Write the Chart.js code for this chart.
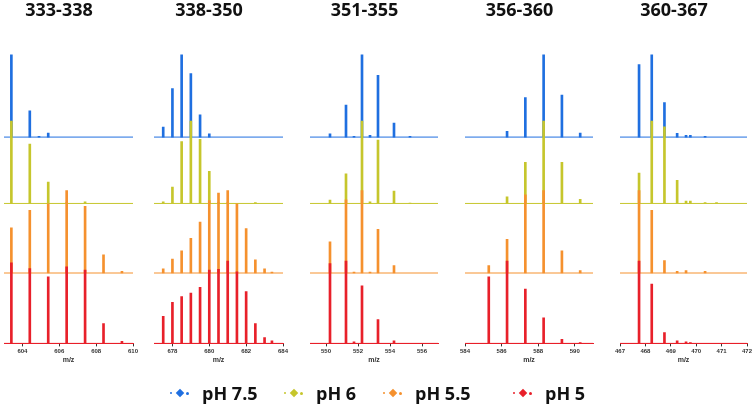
<!DOCTYPE html>
<html>
<head>
<meta charset="utf-8">
<script src="https://cdn.jsdelivr.net/npm/chart.js@4/dist/chart.umd.min.js"></script>
<style>
  html, body { margin: 0; padding: 0; background: #fff; }
  body { width: 754px; height: 410px; position: relative; overflow: hidden; font-family: 'Open Sans', Lato, sans-serif; }
  canvas.panel { position: absolute; top: 0; }
  .lg-item { position: absolute; top: 381px; height: 24px; }
  .lg-dot { position: absolute; border-radius: 50%; }
  .lg-diamond { position: absolute; top: 9px; left: 7px; width: 6px; height: 6px; transform: rotate(45deg); }
  .lg-text { position: absolute; left: 32px; top: 0; line-height: 24px; font-weight: bold; font-size: 18px; color: #111; white-space: nowrap; }
</style>
</head>
<body>
<canvas class="panel" id="p0" width="158" height="364" style="left:-15px"></canvas>
<canvas class="panel" id="p1" width="158" height="364" style="left:135px"></canvas>
<canvas class="panel" id="p2" width="157" height="364" style="left:291px"></canvas>
<canvas class="panel" id="p3" width="157" height="364" style="left:446px"></canvas>
<canvas class="panel" id="p4" width="156" height="364" style="left:601px"></canvas>
<div id="legend"></div>
<script>
// titles and series
const panelTitles = ['333-338', '338-350', '351-355', '356-360', '360-367'];
const seriesNames = ['pH 7.5', 'pH 6', 'pH 5.5', 'pH 5'];
const seriesColors = ['#1f6fe0', '#c6c62c', '#f5912e', '#e8202a'];

// panel 1 (333-338)
const mz1 = [603.4, 604.4, 604.9, 605.4, 606.4, 607.4, 608.4, 609.4];
const ph75_1 = [100, 32, 1, 5, 0, 0, 0, 0];
const ph6_1 = [100, 72, 0, 26, 1, 2, 0, 0];
const ph55_1 = [55, 76, 0, 84, 100, 81, 22, 2];
const ph5_1 = [98, 91, 0, 81, 93, 89, 24, 2.5];
const range1 = [603, 610];
const ticks1 = [604, 606, 608, 610];

// panel 2 (338-350)
const mz2 = [677.5, 678.0, 678.5, 679.0, 679.5, 680.0, 680.5, 681.0, 681.5, 682.0, 682.5, 683.0, 683.4];
const ph75_2 = [12, 59, 100, 77, 27, 4, 0, 0, 0, 0, 0, 0, 0];
const ph6_2 = [2, 20, 75, 100, 78, 39, 1, 1, 0, 0, 1, 0, 0];
const ph55_2 = [5, 17, 27, 42, 62, 88, 97, 100, 84, 54, 16, 5, 1];
const ph5_2 = [33, 50, 57, 61, 68, 89, 90, 100, 87, 63, 24, 7, 3];
const range2 = [677, 684];
const ticks2 = [678, 680, 682, 684];

// panel 3 (351-355)
const mz3 = [550.25, 551.25, 551.75, 552.25, 552.75, 553.25, 554.25, 555.25];
const ph75_3 = [4, 39, 1, 100, 2, 75, 17, 1];
const ph6_3 = [4, 36, 0, 100, 2, 77, 15, 0.5];
const ph55_3 = [38, 89, 1, 100, 1, 53, 9, 0];
const ph5_3 = [97, 100, 2, 70, 0, 29, 3, 0];
const range3 = [549, 557];
const ticks3 = [550, 552, 554, 556];

// panel 4 (356-360)
const mz4 = [585.3, 586.3, 587.3, 588.3, 589.3, 590.3];
const ph75_4 = [0, 7, 48, 100, 51, 5];
const ph6_4 = [0, 8, 50, 100, 50, 5];
const ph55_4 = [9, 41, 95, 100, 27, 3];
const ph5_4 = [81, 100, 66, 31, 5, 1];
const range4 = [584, 591];
const ticks4 = [584, 586, 588, 590];

// panel 5 (360-367)
const mz5 = [467.75, 468.25, 468.75, 469.25, 469.6, 469.77, 470.35, 470.8];
const ph75_5 = [88, 100, 42, 4.5, 2, 2, 1, 0];
const ph6_5 = [37, 100, 93, 28, 3, 3, 1, 1];
const ph55_5 = [100, 76, 15, 2, 3, 0, 2, 0];
const ph5_5 = [100, 72, 13, 3, 2, 1, 0, 0];
const range5 = [467, 472];
const ticks5 = [467, 468, 469, 470, 471, 472];

const panels = [
    { mz: mz1, series: [ph75_1, ph6_1, ph55_1, ph5_1], range: range1, ticks: ticks1 },
    { mz: mz2, series: [ph75_2, ph6_2, ph55_2, ph5_2], range: range2, ticks: ticks2 },
    { mz: mz3, series: [ph75_3, ph6_3, ph55_3, ph5_3], range: range3, ticks: ticks3 },
    { mz: mz4, series: [ph75_4, ph6_4, ph55_4, ph5_4], range: range4, ticks: ticks4 },
    { mz: mz5, series: [ph75_5, ph6_5, ph55_5, ph5_5], range: range5, ticks: ticks5 }
];

// vertical stacking of the four traces (y units, 100 = full peak)
const traceOffsets = [250.6, 170, 85.5, 0];
const yTop = 352;

panels.forEach((p, k) => {
    const datasets = [];
    p.series.forEach((vals, s) => {
        const off = traceOffsets[s];
        datasets.push({
            type: 'bar',
            label: seriesNames[s],
            // empty peaks are left out so they leave no stub on the baseline
            data: p.mz.map((x, i) => ({ x: x, y: vals[i] > 0 ? [off, off + vals[i]] : null })),
            backgroundColor: seriesColors[s],
            borderWidth: 0,
            barThickness: 2,
            grouped: false,
            order: 3 - s
        });
        // baseline of the trace
        datasets.push({
            type: 'line',
            label: seriesNames[s] + ' base',
            data: [{ x: p.range[0], y: off }, { x: p.range[1], y: off }],
            borderColor: seriesColors[s],
            borderWidth: 1,
            pointRadius: 0,
            order: 3 - s
        });
    });

    new Chart(document.getElementById('p' + k), {
        type: 'bar',
        data: { datasets: datasets },
        options: {
            responsive: false,
            animation: false,
            layout: { padding: { left: 0, right: 10, top: 0, bottom: 0 } },
            plugins: {
                legend: { display: false },
                tooltip: { enabled: false },
                title: {
                    display: true,
                    text: panelTitles[k],
                    color: '#111',
                    font: { family: 'Open Sans', size: 18, weight: 'bold' },
                    padding: { top: 0, bottom: 32 }
                }
            },
            scales: {
                x: {
                    type: 'linear',
                    min: p.range[0],
                    max: p.range[1],
                    offset: false,
                    afterBuildTicks: s => { s.ticks = p.ticks.map(v => ({ value: v })); },
                    ticks: {
                        autoSkip: false,
                        maxRotation: 0,
                        padding: 1,
                        color: '#333',
                        font: { family: 'Liberation Sans', size: 6, weight: 'bold' }
                    },
                    grid: { drawOnChartArea: false, drawTicks: true, tickLength: 3, color: '#333', offset: false },
                    border: { display: true, color: seriesColors[3] },
                    title: {
                        display: true,
                        text: 'm/z',
                        color: '#333',
                        padding: 0,
                        font: { family: 'Liberation Sans', size: 7, weight: 'bold' }
                    }
                },
                y: {
                    min: 0,
                    max: yTop,
                    ticks: { display: false },
                    grid: { display: false },
                    border: { display: false },
                    afterFit: s => { s.width = 19; }
                }
            }
        }
    });
});

// legend
const legendLeft = [170, 284, 383, 513];
const legendEl = document.getElementById('legend');
seriesNames.forEach((name, s) => {
    const item = document.createElement('div');
    item.className = 'lg-item';
    item.style.left = legendLeft[s] + 'px';
    const c = seriesColors[s];
    item.innerHTML =
        '<span class="lg-dot" style="left:0;top:11px;width:2px;height:2px;background:' + c + '"></span>' +
        '<span class="lg-diamond" style="background:' + c + '"></span>' +
        '<span class="lg-dot" style="left:16px;top:10.5px;width:3px;height:3px;background:' + c + '"></span>' +
        '<span class="lg-text">' + name + '</span>';
    legendEl.appendChild(item);
});
</script>
</body>
</html>
